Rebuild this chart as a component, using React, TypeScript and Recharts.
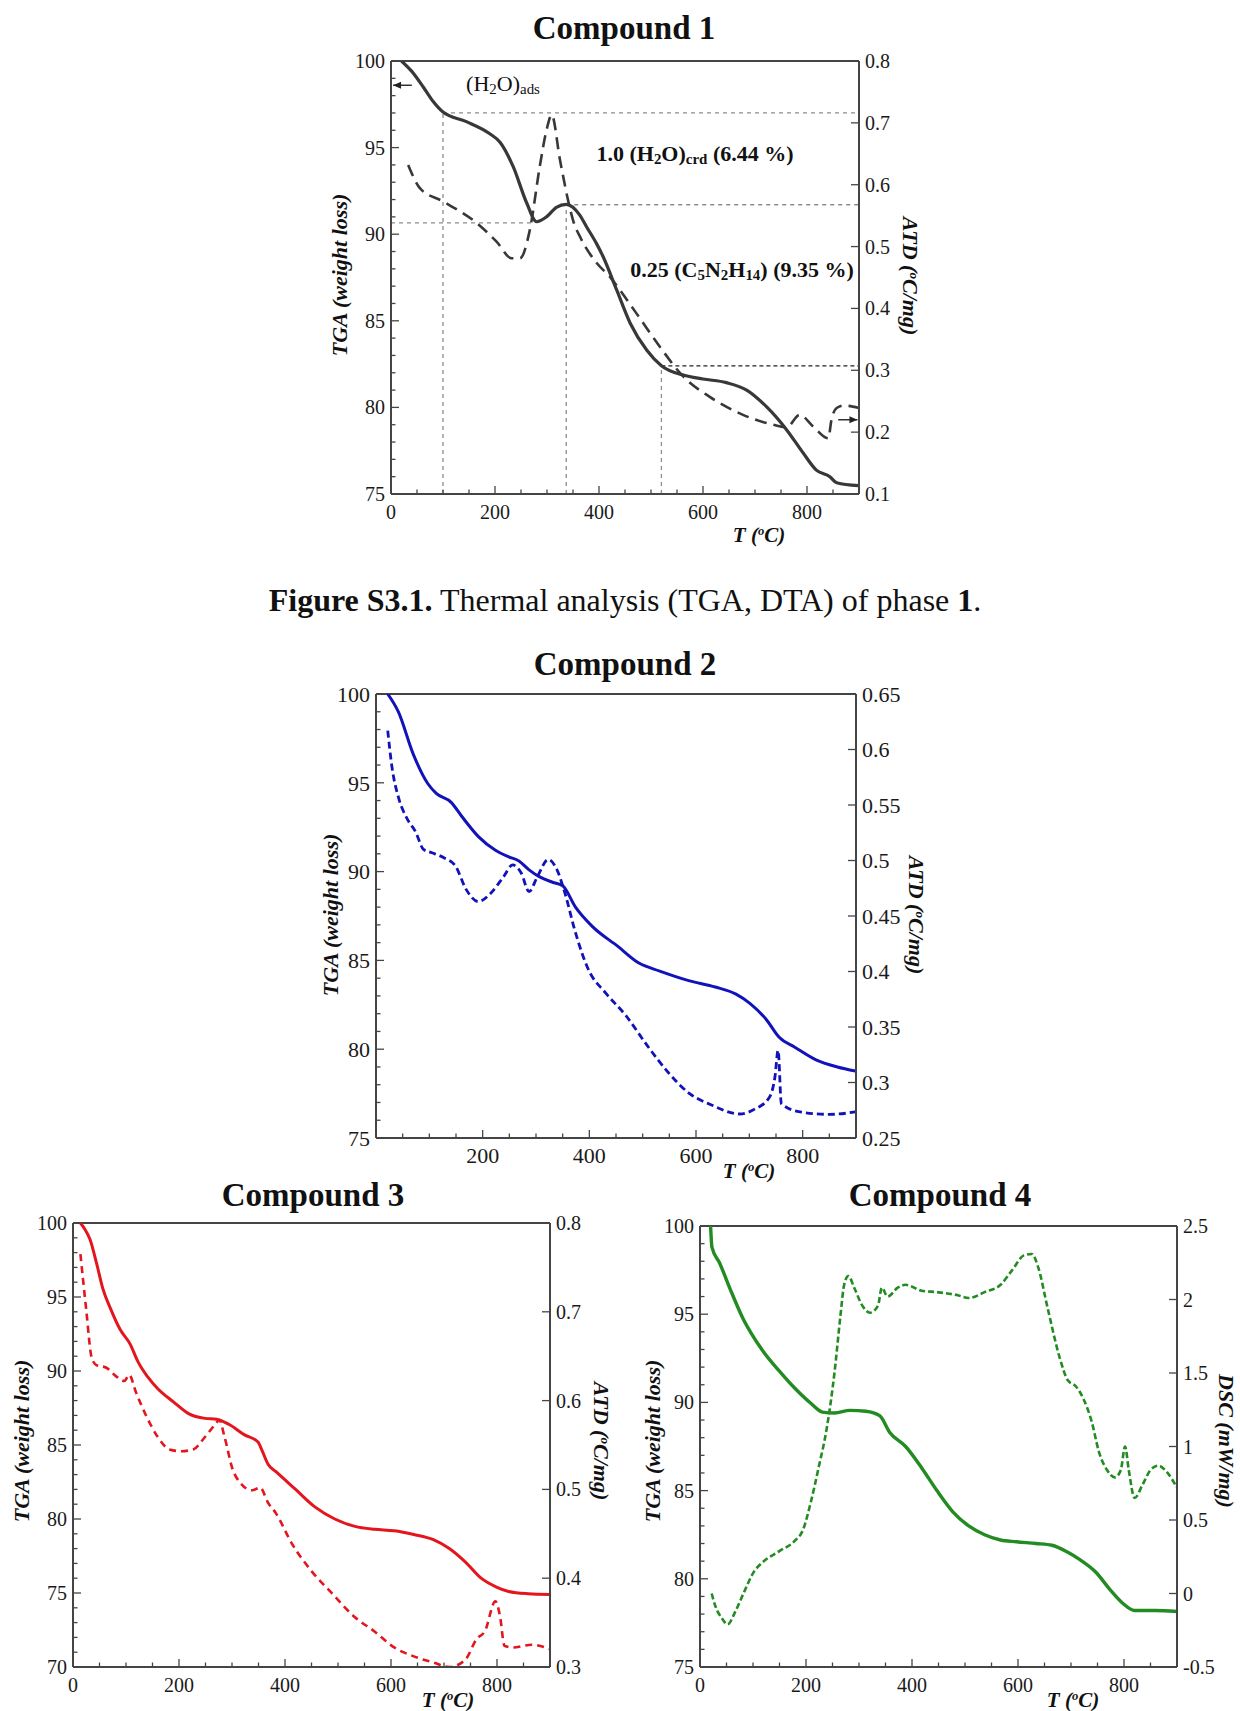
import React from 'react';
import { LineChart, Line, XAxis, YAxis, ReferenceLine } from 'recharts';

type Pt = [number, number];

// ---- Compound 1: TGA (%) / ATD (ºC/mg) vs T (ºC) ----
const tga1: Pt[] = [
  [20, 100], [40, 99.4], [62, 98.5], [80, 97.7], [100, 97.05], [145, 96.5], [190, 95.8],
  [210, 95.3], [235, 93.9], [261, 91.8], [280, 90.72], [299, 91.0], [318, 91.55], [337, 91.72],
  [363, 91.1], [376, 90.43], [395, 89.47], [408, 88.7], [434, 86.78], [460, 84.86], [492, 83.3],
  [520, 82.41], [562, 81.87], [600, 81.64], [645, 81.43], [684, 81.0], [722, 80.04], [761, 78.7],
  [793, 77.35], [818, 76.38], [844, 76.0], [857, 75.65], [899, 75.48],
];
const atd1: Pt[] = [
  [33, 0.632], [56, 0.594], [100, 0.573], [165, 0.538], [203, 0.508], [232, 0.481], [248, 0.481],
  [267, 0.527], [286, 0.629], [299, 0.688], [309, 0.713], [325, 0.64], [341, 0.573], [351, 0.54],
  [364, 0.515], [396, 0.473], [421, 0.451], [440, 0.43], [472, 0.392], [517, 0.338], [562, 0.29],
  [613, 0.257], [677, 0.228], [735, 0.212], [761, 0.208], [786, 0.228], [812, 0.209], [841, 0.19],
  [847, 0.22], [857, 0.239], [870, 0.243], [900, 0.239],
];
// step guides: [x1, y1, x2, y2] on the TGA axis
const guides1: [number, number, number, number][] = [
  [100, 97.0, 900, 97.0],
  [0, 90.65, 272, 90.65],
  [337, 91.7, 900, 91.7],
  [100, 75, 100, 97.0],
  [337, 75, 337, 91.7],
  [520, 75, 520, 82.4],
];
const guide1Dark: [number, number, number, number] = [520, 82.4, 900, 82.4];

// ---- Compound 2 ----
const tga2: Pt[] = [
  [22, 100], [42, 98.99], [70, 96.6], [97, 94.96], [113, 94.4], [141, 93.9], [161, 93.1],
  [192, 91.97], [224, 91.2], [248, 90.84], [268, 90.6], [287, 90.1], [307, 89.7], [331, 89.4],
  [350, 89.2], [374, 88.0], [406, 86.9], [453, 85.8], [493, 84.85], [532, 84.4], [588, 83.85],
  [636, 83.5], [675, 83.1], [701, 82.58], [731, 81.7], [756, 80.67], [786, 80.1], [825, 79.4],
  [865, 79.0], [899, 78.77],
];
const atd2: Pt[] = [
  [22, 0.617], [30, 0.584], [42, 0.557], [58, 0.538], [74, 0.526], [89, 0.51], [105, 0.507],
  [129, 0.502], [149, 0.495], [169, 0.474], [192, 0.463], [216, 0.471], [240, 0.486], [256, 0.496],
  [272, 0.489], [287, 0.472], [303, 0.486], [323, 0.501], [339, 0.492], [354, 0.471], [374, 0.435],
  [398, 0.402], [430, 0.381], [469, 0.36], [509, 0.333], [548, 0.309], [588, 0.29], [628, 0.28],
  [682, 0.2716], [710, 0.276], [738, 0.287], [748, 0.305], [754, 0.329], [760, 0.281], [795, 0.2735],
  [851, 0.2713], [899, 0.2735],
];

// ---- Compound 3 ----
const tga3: Pt[] = [
  [14, 100], [22, 99.6], [32, 98.9], [45, 97.2], [56, 95.6], [71, 94.2], [89, 92.8], [108, 91.8],
  [123, 90.6], [141, 89.6], [160, 88.8], [190, 87.9], [219, 87.1], [249, 86.8], [271, 86.74],
  [294, 86.4], [323, 85.7], [349, 85.2], [357, 84.6], [368, 83.7], [383, 83.2], [420, 82.0],
  [457, 80.8], [494, 80.0], [532, 79.5], [569, 79.3], [606, 79.2], [643, 78.95], [680, 78.6],
  [710, 78.0], [740, 77.1], [770, 76.0], [799, 75.4], [822, 75.1], [859, 74.95], [900, 74.9],
];
const atd3: Pt[] = [
  [14, 0.765], [25, 0.702], [35, 0.649], [44, 0.64], [63, 0.637], [82, 0.627], [97, 0.622],
  [106, 0.629], [119, 0.609], [138, 0.583], [160, 0.559], [182, 0.545], [204, 0.543], [227, 0.545],
  [249, 0.559], [268, 0.573], [276, 0.578], [286, 0.559], [301, 0.523], [316, 0.507], [338, 0.499],
  [353, 0.502], [368, 0.485], [383, 0.473], [413, 0.439], [450, 0.408], [487, 0.384], [532, 0.356],
  [569, 0.34], [606, 0.322], [643, 0.312], [680, 0.305], [710, 0.3], [740, 0.308], [762, 0.332],
  [777, 0.34], [797, 0.374], [806, 0.356], [814, 0.324], [829, 0.322], [866, 0.325], [900, 0.32],
];

// ---- Compound 4: TGA (%) / DSC (mW/mg) ----
const tga4: Pt[] = [
  [20, 100], [22.5, 98.8], [37, 97.9], [60, 96.2], [82, 94.7], [97, 93.9], [119, 92.9], [149, 91.8],
  [179, 90.8], [209, 89.95], [231, 89.45], [254, 89.4], [283, 89.55], [313, 89.5], [339, 89.25],
  [358, 88.3], [388, 87.5], [418, 86.3], [447, 85.0], [477, 83.8], [507, 83.0], [537, 82.5],
  [567, 82.2], [597, 82.1], [634, 82.0], [664, 81.9], [694, 81.5], [716, 81.1], [746, 80.4],
  [776, 79.3], [798, 78.6], [820, 78.2], [858, 78.2], [900, 78.15],
];
const dsc4: Pt[] = [
  [22, 0.0], [30, -0.096], [41, -0.167], [52, -0.21], [67, -0.12], [82, 0.0], [101, 0.144],
  [119, 0.215], [149, 0.287], [179, 0.359], [194, 0.43], [209, 0.62], [224, 0.86], [239, 1.12],
  [254, 1.51], [265, 1.89], [272, 2.1], [280, 2.16], [291, 2.08], [306, 1.96], [321, 1.91],
  [336, 1.96], [343, 2.08], [354, 2.02], [373, 2.08], [388, 2.1], [418, 2.06], [447, 2.05],
  [485, 2.03], [507, 2.01], [537, 2.05], [567, 2.1], [589, 2.2], [611, 2.3], [626, 2.31],
  [638, 2.22], [656, 1.94], [679, 1.6], [694, 1.45], [709, 1.41], [724, 1.32], [739, 1.17],
  [753, 0.96], [768, 0.84], [783, 0.79], [794, 0.84], [802, 1.0], [809, 0.84], [820, 0.65],
  [835, 0.74], [850, 0.84], [865, 0.87], [880, 0.83], [900, 0.72],
];

// ---- ticks ----
const tTicks = [0, 50, 100, 150, 200, 250, 300, 350, 400, 450, 500, 550, 600, 650, 700, 750, 800, 850, 900];
const tMajor = [0, 200, 400, 600, 800];
const tLabels = [0, 200, 400, 600, 800];
const tLabelsNoZero = [200, 400, 600, 800];
const wTicks75 = [75, 76, 77, 78, 79, 80, 81, 82, 83, 84, 85, 86, 87, 88, 89, 90, 91, 92, 93, 94, 95, 96, 97, 98, 99, 100];
const wTicks70 = [70, 71, 72, 73, 74, ...wTicks75];
const wLabels75 = [75, 80, 85, 90, 95, 100];
const wLabels70 = [70, 75, 80, 85, 90, 95, 100];
const atdTicks1 = [0.1, 0.2, 0.3, 0.4, 0.5, 0.6, 0.7, 0.8];
const atdTicks2 = [0.25, 0.3, 0.35, 0.4, 0.45, 0.5, 0.55, 0.6, 0.65];
const atdTicks3 = [0.3, 0.4, 0.5, 0.6, 0.7, 0.8];
const dscTicks4 = [-0.5, 0, 0.5, 1, 1.5, 2, 2.5];

const FONT = '"Liberation Serif", "Times New Roman", Times, serif';
const AXIS = '#454545';
const Y_W = 60;
const X_H = 40;
const TOP = 18;

const pts = (a: Pt[]) => a.map(([t, v]) => ({ t, v }));

const xTick = (labels: number[], fs: number) => (p: any) => {
  const { x, y, payload } = p;
  const v = payload.value;
  const major = tMajor.includes(v);
  return (
    <g>
      <line x1={x} x2={x} y1={y} y2={y - (major ? 8 : 4.5)} stroke={AXIS} strokeWidth={1.3} />
      {labels.includes(v) && (
        <text x={x} y={y + 25} textAnchor="middle" fontFamily={FONT} fontSize={fs} fill="#1a1a1a">
          {v}
        </text>
      )}
    </g>
  );
};

const leftTick = (labels: number[], fs: number) => (p: any) => {
  const { x, y, payload } = p;
  const v = payload.value;
  const major = labels.includes(v);
  return (
    <g>
      <line x1={x} x2={x + (major ? 8 : 4.5)} y1={y} y2={y} stroke={AXIS} strokeWidth={1.3} />
      {major && (
        <text x={x - 6} y={y + fs * 0.35} textAnchor="end" fontFamily={FONT} fontSize={fs} fill="#1a1a1a">
          {v}
        </text>
      )}
    </g>
  );
};

const rightTick = (fs: number) => (p: any) => {
  const { x, y, payload } = p;
  return (
    <g>
      <line x1={x} x2={x - 8} y1={y} y2={y} stroke={AXIS} strokeWidth={1.3} />
      <text x={x + 6} y={y + fs * 0.35} textAnchor="start" fontFamily={FONT} fontSize={fs} fill="#1a1a1a">
        {String(Number(payload.value.toFixed(2)))}
      </text>
    </g>
  );
};

// small arrow drawn along a reference segment, head at the left or right end
const arrowShape = (dir: 'left' | 'right') => (p: any) => {
  const { x1, y1, x2, y2 } = p;
  const tipX = dir === 'left' ? Math.min(x1, x2) : Math.max(x1, x2);
  const s = dir === 'left' ? 1 : -1;
  const yy = (y1 + y2) / 2;
  return (
    <g>
      <line x1={x1} x2={x2} y1={yy} y2={yy} stroke="#222" strokeWidth={1.4} />
      <path d={`M${tipX},${yy} L${tipX + 8 * s},${yy - 3.5} L${tipX + 8 * s},${yy + 3.5} Z`} fill="#222" />
    </g>
  );
};

interface PanelProps {
  plot: { left: number; top: number; width: number; height: number };
  tga: Pt[];
  sec: Pt[];
  color: string;
  dash: string;
  width?: number;
  secWidth?: number;
  fs?: number;
  wDomain: [number, number];
  wTicks: number[];
  wLabels: number[];
  sDomain: [number, number];
  sTicks: number[];
  tLab: number[];
  extra?: React.ReactNode;
}

function Panel({
  plot, tga, sec, color, dash, width = 3, secWidth = 2.6, fs = 20,
  wDomain, wTicks, wLabels, sDomain, sTicks, tLab, extra,
}: PanelProps) {
  return (
    <div style={{ position: 'absolute', left: plot.left - Y_W, top: plot.top - TOP }}>
      <LineChart
        width={plot.width + 2 * Y_W}
        height={plot.height + TOP + X_H}
        margin={{ top: TOP, right: 0, bottom: 0, left: 0 }}
      >
        <XAxis
          xAxisId="t"
          dataKey="t"
          type="number"
          domain={[0, 900]}
          ticks={tTicks}
          interval={0}
          tickSize={0}
          tickMargin={0}
          tickLine={false}
          tick={xTick(tLab, fs)}
          axisLine={{ stroke: AXIS, strokeWidth: 2 }}
          height={X_H}
          allowDataOverflow
        />
        <YAxis
          yAxisId="w"
          orientation="left"
          type="number"
          domain={wDomain}
          ticks={wTicks}
          interval={0}
          tickSize={0}
          tickMargin={0}
          tickLine={false}
          tick={leftTick(wLabels, fs)}
          axisLine={{ stroke: AXIS, strokeWidth: 2 }}
          width={Y_W}
          allowDataOverflow
        />
        <YAxis
          yAxisId="s"
          orientation="right"
          type="number"
          domain={sDomain}
          ticks={sTicks}
          interval={0}
          tickSize={0}
          tickMargin={0}
          tickLine={false}
          tick={rightTick(fs)}
          axisLine={{ stroke: AXIS, strokeWidth: 2 }}
          width={Y_W}
          allowDataOverflow
        />
        <ReferenceLine xAxisId="t" yAxisId="w" y={wDomain[1]} stroke={AXIS} strokeWidth={2} />
        {extra}
        <Line
          xAxisId="t"
          yAxisId="s"
          data={pts(sec)}
          dataKey="v"
          type="monotone"
          stroke={color}
          strokeWidth={secWidth}
          strokeDasharray={dash}
          dot={false}
          isAnimationActive={false}
        />
        <Line
          xAxisId="t"
          yAxisId="w"
          data={pts(tga)}
          dataKey="v"
          type="monotone"
          stroke={color}
          strokeWidth={width}
          dot={false}
          isAnimationActive={false}
        />
      </LineChart>
    </div>
  );
}

function Txt({
  x, y, size = 20, bold = false, italic = false, rotate = 0, children,
}: { x: number; y: number; size?: number; bold?: boolean; italic?: boolean; rotate?: number; children: React.ReactNode }) {
  return (
    <div
      style={{
        position: 'absolute',
        left: x,
        top: y,
        transform: `translate(-50%, -50%)${rotate ? ` rotate(${rotate}deg)` : ''}`,
        fontFamily: FONT,
        fontSize: size,
        fontWeight: bold ? 700 : 400,
        fontStyle: italic ? 'italic' : 'normal',
        whiteSpace: 'nowrap',
        lineHeight: 1,
        color: '#111',
      }}
    >
      {children}
    </div>
  );
}

const sub = { fontSize: '0.68em', verticalAlign: '-0.25em' } as const;
const sup = { fontSize: '0.6em', verticalAlign: '0.5em' } as const;
const TC = () => (
  <>
    T (<span style={sup}>o</span>C)
  </>
);
const ATD = () => (
  <>
    ATD (<span style={sup}>o</span>C/mg)
  </>
);

const ink1 = '#383838';
const guideProps = { stroke: '#8c8c8c', strokeWidth: 1.3, strokeDasharray: '4 4' };

const extras1 = [
  ...guides1.map(([a, b, c, d], i) => (
    <ReferenceLine
      key={`g${i}`}
      xAxisId="t"
      yAxisId="w"
      segment={[{ x: a, y: b }, { x: c, y: d }]}
      {...guideProps}
    />
  )),
  <ReferenceLine
    key="gd"
    xAxisId="t"
    yAxisId="w"
    segment={[{ x: guide1Dark[0], y: guide1Dark[1] }, { x: guide1Dark[2], y: guide1Dark[3] }]}
    stroke="#222"
    strokeWidth={1.3}
    strokeDasharray="4 3"
  />,
  <ReferenceLine
    key="al"
    xAxisId="t"
    yAxisId="w"
    segment={[{ x: 4, y: 98.6 }, { x: 40, y: 98.6 }]}
    shape={arrowShape('left')}
  />,
  <ReferenceLine
    key="ar"
    xAxisId="t"
    yAxisId="s"
    segment={[{ x: 860, y: 0.22 }, { x: 897, y: 0.22 }]}
    shape={arrowShape('right')}
  />,
];

export default function App() {
  return (
    <div
      style={{
        position: 'absolute',
        left: 0,
        top: 0,
        width: 1240,
        height: 1711,
        background: '#fff',
        overflow: 'hidden',
      }}
    >
      {/* Compound 1 */}
      <Txt x={624} y={28} size={33} bold>Compound 1</Txt>
      <Panel
        plot={{ left: 391, top: 61, width: 468, height: 433 }}
        tga={tga1}
        sec={atd1}
        color={ink1}
        dash="12 7"
        width={3.2}
        wDomain={[75, 100]}
        wTicks={wTicks75}
        wLabels={wLabels75}
        sDomain={[0.1, 0.8]}
        sTicks={atdTicks1}
        tLab={tLabels}
        extra={extras1}
      />
      <Txt x={503} y={85} size={22}>
        (H<span style={sub}>2</span>O)<span style={sub}>ads</span>
      </Txt>
      <Txt x={695} y={155} size={22} bold>
        1.0 (H<span style={sub}>2</span>O)<span style={sub}>crd</span> (6.44 %)
      </Txt>
      <Txt x={742} y={271} size={22} bold>
        0.25 (C<span style={sub}>5</span>N<span style={sub}>2</span>H<span style={sub}>14</span>) (9.35 %)
      </Txt>
      <Txt x={340} y={275} size={22} bold italic rotate={-90}>TGA (weight loss)</Txt>
      <Txt x={910} y={276} size={22} bold italic rotate={90}><ATD /></Txt>
      <Txt x={759} y={535} size={21} bold italic><TC /></Txt>

      <Txt x={625} y={600} size={32}>
        <b>Figure S3.1.</b> Thermal analysis (TGA, DTA) of phase <b>1</b>.
      </Txt>

      {/* Compound 2 */}
      <Txt x={625} y={664} size={33} bold>Compound 2</Txt>
      <Panel
        plot={{ left: 376, top: 694, width: 480, height: 444 }}
        tga={tga2}
        sec={atd2}
        color="#1212bb"
        dash="7 4"
        secWidth={2.8}
        fs={22}
        wDomain={[75, 100]}
        wTicks={wTicks75}
        wLabels={wLabels75}
        sDomain={[0.25, 0.65]}
        sTicks={atdTicks2}
        tLab={tLabelsNoZero}
      />
      <Txt x={331} y={915} size={22} bold italic rotate={-90}>TGA (weight loss)</Txt>
      <Txt x={916} y={915} size={22} bold italic rotate={90}><ATD /></Txt>
      <Txt x={749} y={1171} size={21} bold italic><TC /></Txt>

      {/* Compound 3 */}
      <Txt x={313} y={1195} size={33} bold>Compound 3</Txt>
      <Panel
        plot={{ left: 73, top: 1223, width: 477, height: 444 }}
        tga={tga3}
        sec={atd3}
        color="#e3161e"
        dash="7 5"
        wDomain={[70, 100]}
        wTicks={wTicks70}
        wLabels={wLabels70}
        sDomain={[0.3, 0.8]}
        sTicks={atdTicks3}
        tLab={tLabels}
      />
      <Txt x={22} y={1441} size={22} bold italic rotate={-90}>TGA (weight loss)</Txt>
      <Txt x={601} y={1441} size={22} bold italic rotate={90}><ATD /></Txt>
      <Txt x={448} y={1700} size={21} bold italic><TC /></Txt>

      {/* Compound 4 */}
      <Txt x={940} y={1195} size={33} bold>Compound 4</Txt>
      <Panel
        plot={{ left: 700, top: 1226, width: 477, height: 441 }}
        tga={tga4}
        sec={dsc4}
        color="#228b22"
        dash="6 3"
        width={3.4}
        wDomain={[75, 100]}
        wTicks={wTicks75}
        wLabels={wLabels75}
        sDomain={[-0.5, 2.5]}
        sTicks={dscTicks4}
        tLab={tLabels}
      />
      <Txt x={653} y={1441} size={22} bold italic rotate={-90}>TGA (weight loss)</Txt>
      <Txt x={1226} y={1441} size={22} bold italic rotate={90}>DSC (mW/mg)</Txt>
      <Txt x={1073} y={1700} size={21} bold italic><TC /></Txt>
    </div>
  );
}
